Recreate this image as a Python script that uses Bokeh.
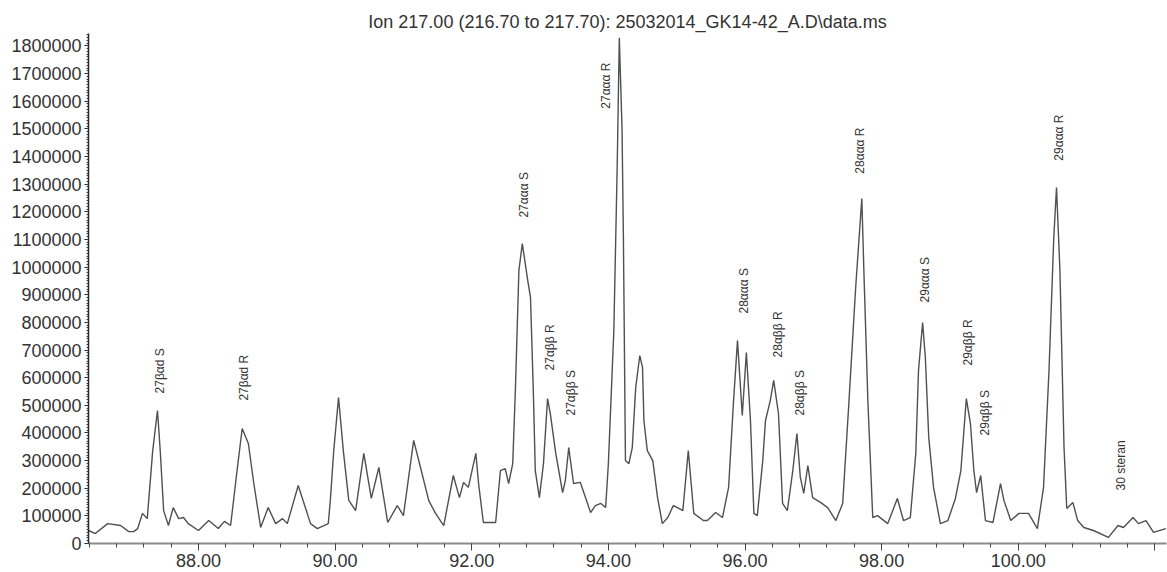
import math
from bokeh.plotting import figure
from bokeh.models import SingleIntervalTicker, PrintfTickFormatter, Range1d, ColumnDataSource
from bokeh.embed import file_html
from bokeh.resources import INLINE
from bokeh.core.properties import value

# ---------------- data ----------------
title_text = "Ion 217.00 (216.70 to 217.70): 25032014_GK14-42_A.D\\data.ms"

retention_time = [
    86.39, 86.49, 86.67, 86.86, 86.98, 87.05, 87.11, 87.18, 87.25, 87.33,
    87.40, 87.44, 87.49, 87.56, 87.63, 87.71, 87.78, 87.85, 88.00, 88.15,
    88.29, 88.38, 88.47, 88.57, 88.64, 88.73, 88.81, 88.91, 89.02, 89.13,
    89.23, 89.30, 89.46, 89.64, 89.74, 89.90, 89.93, 89.98, 90.05, 90.12,
    90.20, 90.30, 90.42, 90.53, 90.64, 90.77, 90.91, 91.00, 91.15, 91.25,
    91.37, 91.47, 91.59, 91.73, 91.82, 91.88, 91.95, 92.06, 92.10, 92.17,
    92.35, 92.42, 92.49, 92.54, 92.60, 92.64, 92.69, 92.74, 92.82, 92.86,
    92.90, 92.93, 92.99, 93.05, 93.11, 93.15, 93.23, 93.33, 93.37, 93.42,
    93.49, 93.59, 93.74, 93.81, 93.89, 93.96, 94.00, 94.08, 94.13, 94.16,
    94.20, 94.22, 94.25, 94.30, 94.35, 94.40, 94.46, 94.50, 94.52, 94.57,
    94.65, 94.72, 94.79, 94.87, 94.95, 95.01, 95.09, 95.17, 95.25, 95.39,
    95.45, 95.57, 95.67, 95.76, 95.83, 95.89, 95.96, 96.02, 96.08, 96.13,
    96.18, 96.26, 96.30, 96.37, 96.42, 96.49, 96.55, 96.62, 96.70, 96.76,
    96.81, 96.86, 96.92, 96.99, 97.11, 97.21, 97.33, 97.43, 97.52, 97.62,
    97.71, 97.74, 97.80, 97.87, 97.94, 98.09, 98.23, 98.32, 98.42, 98.50,
    98.54, 98.60, 98.64, 98.69, 98.76, 98.86, 98.97, 99.08, 99.16, 99.24,
    99.30, 99.35, 99.39, 99.45, 99.52, 99.63, 99.74, 99.79, 99.89, 100.01,
    100.15, 100.28, 100.37, 100.45, 100.52, 100.56, 100.61, 100.67, 100.71, 100.80,
    100.87, 100.96, 101.10, 101.32, 101.46, 101.54, 101.68, 101.76, 101.87, 101.98,
    102.16,
]

abundance = [
    47000, 36000, 72000, 65000, 43000, 43000, 54000, 109000, 90000, 336000,
    481000, 336000, 119000, 65000, 130000, 90000, 94000, 72000, 47000, 83000,
    54000, 80000, 65000, 275000, 416000, 362000, 217000, 58000, 130000, 72000,
    90000, 72000, 210000, 72000, 54000, 72000, 156000, 336000, 528000, 336000,
    156000, 119000, 326000, 163000, 275000, 76000, 137000, 101000, 373000, 275000,
    156000, 109000, 65000, 246000, 166000, 221000, 203000, 326000, 217000, 76000,
    76000, 264000, 271000, 217000, 289000, 564000, 987000, 1085000, 951000, 890000,
    564000, 264000, 166000, 289000, 524000, 470000, 326000, 184000, 228000, 347000,
    217000, 221000, 112000, 137000, 145000, 130000, 289000, 770000, 1374000, 1830000,
    1500000, 1107000, 300000, 289000, 347000, 564000, 680000, 637000, 445000, 336000,
    300000, 166000, 72000, 94000, 137000, 130000, 119000, 336000, 109000, 83000,
    83000, 112000, 94000, 203000, 506000, 734000, 463000, 691000, 445000, 109000,
    101000, 300000, 445000, 517000, 590000, 470000, 145000, 119000, 264000, 398000,
    239000, 181000, 282000, 166000, 148000, 130000, 83000, 145000, 506000, 926000,
    1248000, 987000, 506000, 94000, 101000, 72000, 163000, 83000, 94000, 326000,
    626000, 799000, 673000, 383000, 203000, 72000, 83000, 163000, 264000, 524000,
    434000, 264000, 184000, 246000, 83000, 76000, 217000, 156000, 83000, 109000,
    109000, 54000, 203000, 626000, 1107000, 1288000, 987000, 347000, 127000, 148000,
    83000, 58000, 47000, 22000, 65000, 58000, 94000, 72000, 83000, 40000,
    54000,
]

peak_labels = [
    "27\u03b2\u03b1d S", "27\u03b2\u03b1d R", "27\u03b1\u03b1\u03b1 S", "27\u03b1\u03b2\u03b2 R",
    "27\u03b1\u03b2\u03b2 S", "27\u03b1\u03b1\u03b1 R", "28\u03b1\u03b1\u03b1 S", "28\u03b1\u03b2\u03b2 R",
    "28\u03b1\u03b2\u03b2 S", "28\u03b1\u03b1\u03b1 R", "29\u03b1\u03b1\u03b1 S", "29\u03b1\u03b2\u03b2 R",
    "29\u03b1\u03b2\u03b2 S", "29\u03b1\u03b1\u03b1 R", "30 steran",
]
peak_label_time = [87.44, 88.66, 92.76, 93.14, 93.46, 93.97, 95.98, 96.48,
                   96.80, 97.69, 98.64, 99.26, 99.51, 100.59, 101.50]
peak_label_height = [543000, 517000, 1179000, 626000, 463000, 1573000, 832000, 673000,
                     463000, 1338000, 872000, 644000, 391000, 1385000, 192000]

# ---------------- figure ----------------
FONT = "Liberation Sans"

p = figure(
    width=1167, height=572,
    output_backend="svg", toolbar_location=None,
    x_range=Range1d(86.39, 102.17), y_range=Range1d(0, 1845000),
    min_border_left=88, min_border_right=1, min_border_top=33, min_border_bottom=29,
    background_fill_color="white", border_fill_color="white",
)
p.outline_line_color = None
p.xgrid.visible = False
p.ygrid.visible = False

p.title.text = title_text
p.title.align = "center"
p.title.text_font = FONT
p.title.text_font_size = "18px"
p.title.text_font_style = "normal"
p.title.text_color = "#333333"
p.title.standoff = 4

# x axis
p.xaxis.ticker = SingleIntervalTicker(interval=2, num_minor_ticks=5)
p.xaxis.formatter = PrintfTickFormatter(format="%.2f")
p.xaxis.major_label_overrides = {102: ""}
p.xaxis.axis_line_color = "#8a8a8a"
p.xaxis.axis_line_width = 2
p.xaxis.major_tick_line_color = "#444444"
p.xaxis.minor_tick_line_color = "#444444"
p.xaxis.major_tick_in = 0
p.xaxis.major_tick_out = 7
p.xaxis.minor_tick_in = 0
p.xaxis.minor_tick_out = 4
p.xaxis.major_label_standoff = 3
p.xaxis.major_label_text_font = FONT
p.xaxis.major_label_text_font_size = "18px"
p.xaxis.major_label_text_color = "#333333"

# y axis
p.yaxis.ticker = SingleIntervalTicker(interval=100000, num_minor_ticks=10)
p.yaxis.formatter = PrintfTickFormatter(format="%d")
p.yaxis.axis_line_color = "#222222"
p.yaxis.axis_line_width = 1.5
p.yaxis.major_tick_line_color = "#222222"
p.yaxis.minor_tick_line_color = "#444444"
p.yaxis.major_tick_in = 0
p.yaxis.major_tick_out = 4
p.yaxis.minor_tick_in = 0
p.yaxis.minor_tick_out = 2
p.yaxis.major_label_standoff = 3
p.yaxis.major_label_text_font = FONT
p.yaxis.major_label_text_font_size = "18px"
p.yaxis.major_label_text_color = "#333333"

# trace
trace = ColumnDataSource(dict(t=retention_time, a=abundance))
p.line("t", "a", source=trace, line_color="#505050", line_width=1.4)

# peak labels
labels = ColumnDataSource(dict(t=peak_label_time, h=peak_label_height, s=peak_labels))
p.text("t", "h", text="s", source=labels, angle=math.pi / 2,
       text_align="left", text_baseline="middle",
       text_font=value(FONT), text_font_size="12px", text_color="#333333")

open("out.html", "w").write(file_html(p, INLINE))
